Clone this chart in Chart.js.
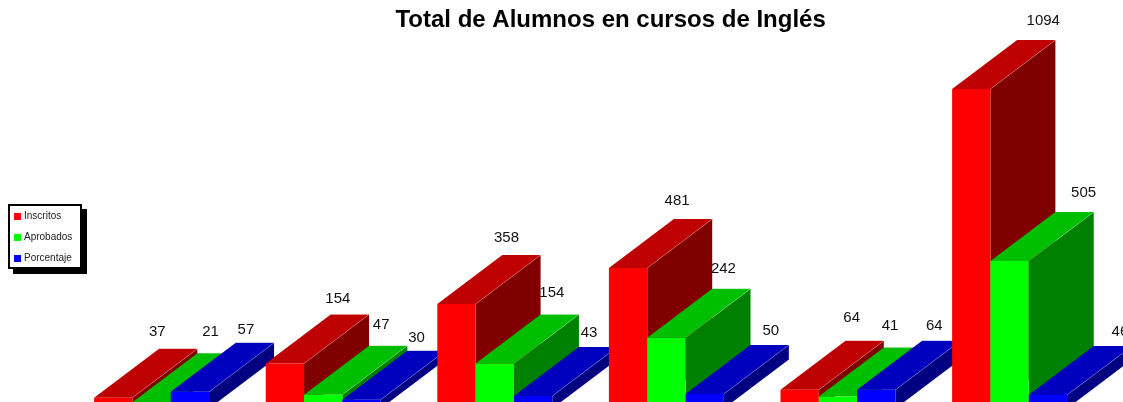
<!DOCTYPE html>
<html>
<head>
<meta charset="utf-8">
<title>Total de Alumnos en cursos de Inglés</title>
<script src="https://cdn.jsdelivr.net/npm/chart.js@4"></script>
<style>
    html, body { margin: 0; padding: 0; background: #fff; overflow: hidden; }
    #marco { position: relative; width: 1123px; height: 402px; overflow: hidden; }
    #grafico { position: absolute; left: 0; top: 0; }
    #leyenda {
        position: absolute; left: 8px; top: 204px; width: 70px; height: 61px;
        border: 2px solid #000; background: #fff; box-shadow: 5px 5px 0 #000;
        font: 10px "Liberation Sans", Arial, sans-serif; color: #222;
    }
    #leyenda div { position: absolute; left: 14px; white-space: nowrap; line-height: 12px; }
    #leyenda i { position: absolute; left: -10px; top: 3px; width: 7px; height: 7px; }
</style>
</head>
<body>
<div id="marco">
    <canvas id="grafico" width="1123" height="460"></canvas>
    <div id="leyenda"></div>
</div>
<script>
const categorias = ['1', '2', '3', '4', '5', '6'];
const inscritos = [37, 154, 358, 481, 64, 1094];
const aprobados = [21, 47, 154, 242, 41, 505];
const porcentaje = [57, 30, 43, 50, 64, 46];
const nombres = ['Inscritos', 'Aprobados', 'Porcentaje'];

// Colores de cada serie: frente, tapa y lateral
const frentes = ['#ff0000', '#00ff00', '#0000ff'];
const tapas = ['#bf0000', '#00bf00', '#0000bf'];
const laterales = ['#800000', '#008000', '#000080'];

// Profundidad del efecto 3D, en pixeles
const fondoX = 65;
const fondoY = 49;

// Ajuste de cada etiqueta respecto al fondo de su barra (por serie)
const ajusteX = [
    [-21, -12, -15, -16, -13, 7],
    [-6, -7, -8, -8, -13, 9],
    [-9, -10, -9, 1, -7, 7]
];
const ajusteY = [
    [-17, -16, -17, -18, -23, -19],
    [-22, -21, -22, -20, -22, -19],
    [-13, -13, -14, -14, -15, -14]
];

function poligono(ctx, puntos, color) {
    ctx.fillStyle = color;
    ctx.beginPath();
    puntos.forEach(function(p, i) {
        if (i === 0) ctx.moveTo(p[0], p[1]);
        else ctx.lineTo(p[0], p[1]);
    });
    ctx.closePath();
    ctx.fill();
}

// Linea clara en las aristas del fondo
function aristas(ctx, puntos) {
    ctx.strokeStyle = 'rgba(255, 255, 255, 0.2)';
    ctx.lineWidth = 1;
    ctx.beginPath();
    puntos.forEach(function(p, i) {
        if (i === 0) ctx.moveTo(p[0], p[1]);
        else ctx.lineTo(p[0], p[1]);
    });
    ctx.stroke();
}

// Dibuja las barras por grupo, para que cada una tape el lateral de la anterior
const barras3D = {
    id: 'barras3D',
    afterLayout(chart) {
        // El titulo va centrado algo a la derecha del area de barras
        chart.titleBlock.left += 30;
        chart.titleBlock.right += 30;
    },
    beforeDatasetsDraw(chart) {
        const ctx = chart.ctx;
        const series = chart.data.datasets.map((d, i) => chart.getDatasetMeta(i).data);

        categorias.forEach(function(cat, c) {
            series.forEach(function(barras, s) {
                const bar = barras[c].getProps(['x', 'y', 'base', 'width'], true);
                const izq = bar.x - bar.width / 2;
                const der = bar.x + bar.width / 2;
                const arriba = bar.y - fondoY;

                poligono(ctx, [[der, bar.y], [der + fondoX, arriba],
                    [der + fondoX, bar.base - fondoY], [der, bar.base]], laterales[s]);
                poligono(ctx, [[izq, bar.y], [izq + fondoX, arriba],
                    [der + fondoX, arriba], [der, bar.y]], tapas[s]);
                aristas(ctx, [[der, bar.y], [der + fondoX, arriba]]);
                aristas(ctx, [[izq + fondoX, arriba - 0.5], [der + fondoX + 0.5, arriba - 0.5],
                    [der + fondoX + 0.5, bar.base - fondoY]]);
                barras[c].draw(ctx);
            });
        });

        // Valores encima de las barras
        ctx.fillStyle = '#111';
        ctx.font = '15px "Liberation Sans", Arial, sans-serif';
        ctx.textAlign = 'center';
        ctx.textBaseline = 'middle';
        series.forEach(function(barras, s) {
            barras.forEach(function(elemento, c) {
                const bar = elemento.getProps(['x', 'y'], true);
                const valor = chart.data.datasets[s].data[c];
                ctx.fillText(valor, bar.x + fondoX + ajusteX[s][c], bar.y - fondoY + ajusteY[s][c]);
            });
        });

        return false; // ya esta todo dibujado
    }
};

const grafico = new Chart(document.getElementById('grafico').getContext('2d'), {
    type: 'bar',
    data: {
        labels: categorias,
        datasets: [inscritos, aprobados, porcentaje].map(function(valores, i) {
            return {
                label: nombres[i],
                data: valores,
                backgroundColor: frentes[i],
                borderWidth: 0,
                barPercentage: 1,
                categoryPercentage: 0.67
            };
        })
    },
    options: {
        responsive: false,
        animation: false,
        layout: { padding: { left: 65.8, right: 27.6, top: 0, bottom: 51.5 } },
        scales: {
            x: { display: false },
            y: { display: false, min: 0, max: 1250 }
        },
        plugins: {
            legend: { display: false },
            tooltip: { enabled: false },
            title: {
                display: true,
                text: 'Total de Alumnos en cursos de Inglés',
                color: '#000',
                font: { family: '"Liberation Sans", Arial, sans-serif', size: 24, weight: 'bold', lineHeight: 1.2 },
                padding: { top: 6, bottom: 8.7 }
            }
        }
    },
    plugins: [barras3D]
});

// Leyenda con sombra, fuera del canvas
const leyenda = document.getElementById('leyenda');
nombres.forEach(function(nombre, i) {
    const fila = document.createElement('div');
    fila.style.top = (4 + i * 21) + 'px';
    fila.textContent = nombre;
    const cuadro = document.createElement('i');
    cuadro.style.background = frentes[i];
    fila.appendChild(cuadro);
    leyenda.appendChild(fila);
});
</script>
</body>
</html>
